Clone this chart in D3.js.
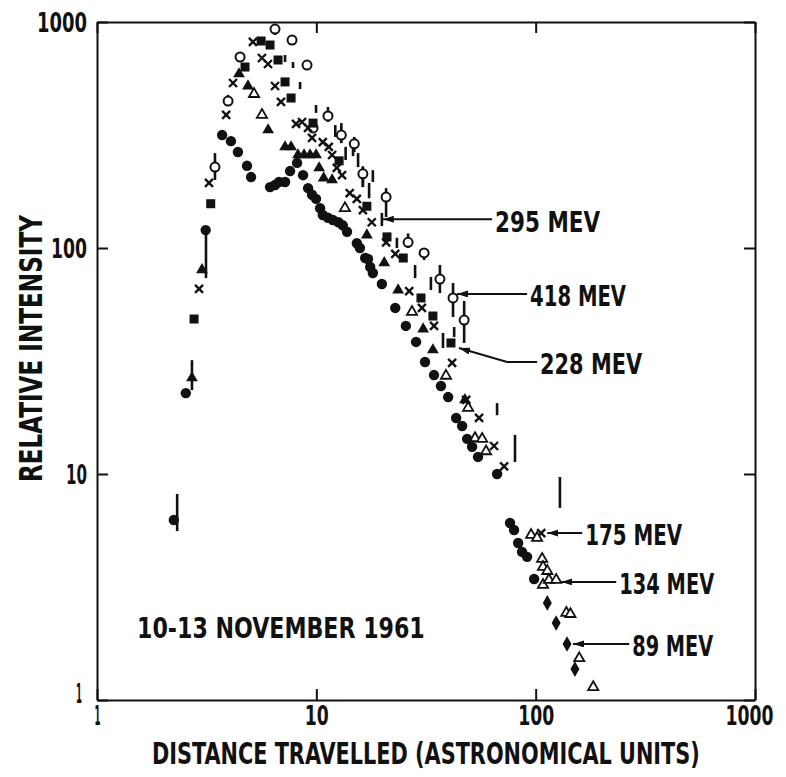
<!DOCTYPE html>
<html>
<head>
<meta charset="utf-8">
<title>10-13 November 1961</title>
<script src="https://d3js.org/d3.v7.min.js"></script>
<style>
body{margin:0;background:#fff;}
text{font-family:"DejaVu Sans Condensed","Liberation Sans Narrow",sans-serif;font-weight:bold;fill:#111;}
</style>
</head>
<body>
<script>
// [distance travelled (AU), relative intensity]
var mev89 = [
	[2.24,6.26],[2.54,22.8],[3.13,120],[3.72,316],[4.08,297],[4.39,266],[4.83,231],[5.04,206],
	[6.15,186],[6.48,190],[6.76,196],[7.20,196],[7.59,219],[8.17,238],[8.70,210],[9.17,184],
	[9.56,172],[9.97,165],[10.4,150],[10.7,140],[11.3,136],[11.9,133],[12.6,130],[13.2,126],
	[13.8,118],[15.3,105],[15.8,100],[16.7,90.3],[17.2,89.4],[17.6,82.4],[18.1,77.5],[19.9,69.3],
	[22.9,54.3],[25.6,45.2],[28.5,38.4],[31.3,31.3],[34.4,27.4],[37.0,24.5],[39.9,21.9],[43.4,17.7],
	[46.2,16.3],[48.7,14.3],[51.3,13.2],[54.6,11.9],[66.7,10.0],[76.4,6.07],[79.7,5.65],[83.2,4.95],
	[86.7,4.52],[91.4,4.30],[98.4,3.43]
];
var mev89Late = [[113,2.69],[124,2.19],[139,1.77],[151,1.37]];

var mev134Solid = [
	[2.71,26.6],[3.01,80],[4.44,589],[4.88,521],[6.03,333],[7.20,280],[7.67,280],[8.25,258],
	[8.79,258],[9.36,258],[9.97,258],[10.3,226],[10.8,204],[11.8,200],[17.0,114],[20.4,85.9],
	[23.6,65.2],[30.7,43.8],[34.0,35.4],[47.6,21.3]
];
var mev134Open = [
	[5.20,480],[5.65,388],[13.5,150],[27.3,52.1],[39.0,27.2],[49.2,19.6],[52.9,14.4],[57.0,14.3],
	[59.4,12.6],[95.3,5.37],[101.5,5.21],[107,4.21],[108,3.88],[113,3.72],[108,3.23],[115,3.40],
	[124,3.40],[138,2.43],[144,2.40],[158,1.53],[183,1.14]
];

var mev175 = [
	[2.92,65.9],[3.24,194],[3.88,388],[4.17,537],[5.14,816],[5.65,693],[6.02,652],[6.48,521],
	[6.90,443],[8.08,354],[8.61,361],[9.17,340],[9.56,307],[10.7,294],[11.4,280],[11.8,258],
	[12.4,226],[13.1,210],[14.2,175],[15.3,165],[16.3,147],[17.9,130],[20.8,106],[22.9,94.1],
	[26.5,64.5],[30.3,54.3],[34.4,45.2],[41.6,31.0],[48.2,21.3],[55.2,17.7],[64.6,13.3],[71.8,10.8],
	[106,5.48]
];

var mev228 = [
	[2.77,48.5],[3.30,157],[4.73,632],[5.60,824],[6.15,791],[6.69,679],[7.20,543],[7.67,461],
	[9.66,357],[12.7,243],[17.0,153],[21.0,112],[24.9,90.3],[30.0,60.1],[34.0,50.0],[41.1,38.0]
];

// [distance, low, high] - drawn as bars
var mev295 = [
	[2.32,5.59,8.16],[2.71,23.5,31.9],[3.14,73.6,118],[7.20,665,714],[7.83,626,665],[8.43,505,543],
	[9.97,396,429],[12.2,310,350],[13.6,245,280],[14.7,255,300],[15.5,228,263],[16.3,186,228],
	[17.4,166,194],[18.1,196,221],[19.9,125,143],[23.3,100,111],[28.2,73.6,84.1],[33.3,65.2,74.5],
	[37.8,36.1,42.1],[42.5,40.4,44.7],[66.7,18.2,20.6],[80.5,11.3,14.9],[129,7.08,9.70]
];

// [distance, intensity, low, high]
var mev418 = [
	[3.45,228,200,263],[3.96,447,429,476],[4.49,700,665,736],[6.48,931,876,960],[7.75,832,832,832],
	[9.07,645,613,671],[9.66,340,340,340],[11.3,384,361,421],[13.0,316,291,357],[14.9,289,266,310],
	[16.3,213,186,230],[20.8,168,137,184],[26.2,106,100,116],[31.0,95.1,88.5,100],[36.6,72.9,63.2,84.1],
	[42.0,60.1,49.5,70.0],[47.2,48.0,38.0,58.3]
];

var xTicks = [1,10,100,1000];
var yTicks = [1,10,100,1000];

var noteText = ["295 MEV","418 MEV","228 MEV","175 MEV","134 MEV","89 MEV"];
var noteTip  = [[20.1,134],[43.8,62.6],[44.7,36.1],[113,5.48],[131,3.33],[148,1.77]];
var noteKnee = [null,null,[74.1,31.3],null,null,null];
var noteEnd  = [[63.3,134],[91.4,62.6],[101.5,31.3],[163,5.48],[233,3.33],[267,1.77]];

var title = "10-13 NOVEMBER 1961";

var width = 786, height = 777;
var svg = d3.select("body").append("svg").attr("width",width).attr("height",height);

var x = d3.scaleLog().domain([1,1000]).range([97,755]);
var y = d3.scaleLog().domain([1,1000]).range([700,22]);

svg.append("defs").append("marker").attr("id","head")
	.attr("viewBox","0 0 11 7").attr("refX",11).attr("refY",3.5)
	.attr("markerWidth",11).attr("markerHeight",7).attr("markerUnits","userSpaceOnUse")
	.attr("orient","auto")
	.append("path").attr("d","M0,0L11,3.5L0,7z").attr("fill","#111");

// squeeze a text horizontally to a given width (hand lettering is narrow)
function fitText(t, tx, ty, w, rot){
	var n = t.node().getComputedTextLength();
	t.attr("transform","translate(" + tx + "," + ty + ")" + (rot ? " rotate(" + rot + ")" : "") + " scale(" + (w / n) + ",1)");
}

// axes: inward ticks on all four sides
function styleAxis(g){
	g.select(".domain").attr("stroke","#111").attr("stroke-width",2);
	g.selectAll(".tick line").attr("stroke","#111").attr("stroke-width",2);
}
var xAxisG = svg.append("g").attr("transform","translate(0,700)")
	.call(d3.axisBottom(x).tickValues(xTicks).tickSize(-11).tickSizeOuter(0).tickFormat(d3.format("d")));
var yAxisG = svg.append("g").attr("transform","translate(97,0)")
	.call(d3.axisLeft(y).tickValues(yTicks).tickSize(-11).tickSizeOuter(0).tickFormat(d3.format("d")));
var xTopG = svg.append("g").attr("transform","translate(0,22)")
	.call(d3.axisTop(x).tickValues(xTicks).tickSize(-11).tickSizeOuter(0).tickFormat(""));
var yRightG = svg.append("g").attr("transform","translate(755,0)")
	.call(d3.axisRight(y).tickValues(yTicks).tickSize(-11).tickSizeOuter(0).tickFormat(""));
[xAxisG,yAxisG,xTopG,yRightG].forEach(styleAxis);

var xLabW = {1:6,10:24,100:36,1000:48};
var yLabW = {1:6,10:21,100:36,1000:50};
xAxisG.selectAll(".tick text").attr("x",0).attr("y",0).attr("dy","0.71em")
	.style("font-size","26px").attr("fill","#111")
	.each(function(d){ fitText(d3.select(this), d === 1000 ? -6 : 0, 7, xLabW[d]); });
yAxisG.selectAll(".tick text").attr("x",0).attr("y",0).attr("dy",d => d === 1 ? "0.1em" : "0.36em")
	.style("font-size","26px").attr("fill","#111")
	.each(function(d){ fitText(d3.select(this), d === 1 ? -15 : -10, 0, yLabW[d]); });

fitText(svg.append("text").style("font-size","30px").text("DISTANCE TRAVELLED (ASTRONOMICAL UNITS)"), 152, 764, 548);
fitText(svg.append("text").style("font-size","32px").text("RELATIVE INTENSITY"), 42, 482, 267, -90);
fitText(svg.append("text").style("font-size","29px").text(title), 137, 638, 288);

var plot = svg.append("g");

// 295 MEV bars
plot.selectAll("line.m295").data(mev295).join("line").attr("class","m295")
	.attr("x1",d => x(d[0])).attr("x2",d => x(d[0]))
	.attr("y1",d => y(d[1])).attr("y2",d => y(d[2]))
	.attr("stroke","#111").attr("stroke-width",2.6);

// 418 MEV open circles with error bars
plot.selectAll("line.m418").data(mev418).join("line").attr("class","m418")
	.attr("x1",d => x(d[0])).attr("x2",d => x(d[0]))
	.attr("y1",d => y(d[2])).attr("y2",d => y(d[3]))
	.attr("stroke","#111").attr("stroke-width",2.6);
plot.selectAll("circle.m418").data(mev418).join("circle").attr("class","m418")
	.attr("cx",d => x(d[0])).attr("cy",d => y(d[1])).attr("r",4.5)
	.attr("fill","#fff").attr("stroke","#111").attr("stroke-width",2);

// 228 MEV squares
plot.selectAll("rect.m228").data(mev228).join("rect").attr("class","m228")
	.attr("x",d => x(d[0]) - 4.5).attr("y",d => y(d[1]) - 4.5)
	.attr("width",9).attr("height",9).attr("fill","#111");

// 175 MEV crosses
plot.selectAll("path.m175").data(mev175).join("path").attr("class","m175")
	.attr("transform",d => "translate(" + x(d[0]) + "," + y(d[1]) + ")")
	.attr("d","M-4,-4L4,4M-4,4L4,-4").attr("stroke","#111").attr("stroke-width",2.4);

// 134 MEV triangles
plot.selectAll("path.m134s").data(mev134Solid).join("path").attr("class","m134s")
	.attr("transform",d => "translate(" + x(d[0]) + "," + y(d[1]) + ")")
	.attr("d",d3.symbol(d3.symbolTriangle, 60)).attr("fill","#111");
plot.selectAll("path.m134o").data(mev134Open).join("path").attr("class","m134o")
	.attr("transform",d => "translate(" + x(d[0]) + "," + y(d[1]) + ")")
	.attr("d",d3.symbol(d3.symbolTriangle, 45)).attr("fill","#fff").attr("stroke","#111").attr("stroke-width",1.8);

// 89 MEV filled circles, then diamonds
plot.selectAll("circle.m89").data(mev89).join("circle").attr("class","m89")
	.attr("cx",d => x(d[0])).attr("cy",d => y(d[1])).attr("r",5.2).attr("fill","#111");
plot.selectAll("path.m89l").data(mev89Late).join("path").attr("class","m89l")
	.attr("transform",d => "translate(" + x(d[0]) + "," + y(d[1]) + ")")
	.attr("d",d3.symbol(d3.symbolDiamond, 70)).attr("fill","#111");

// energy labels with arrows
var noteW = [105,96,102,97,95,81];
noteText.forEach(function(t,i){
	var pts = [noteEnd[i]];
	if (noteKnee[i]) pts.push(noteKnee[i]);
	pts.push(noteTip[i]);
	svg.append("path")
		.attr("d",d3.line().x(p => x(p[0])).y(p => y(p[1]))(pts))
		.attr("fill","none").attr("stroke","#111").attr("stroke-width",2)
		.attr("marker-end","url(#head)");
	var lab = svg.append("text").attr("dy","0.36em").style("font-size","29px").text(t);
	fitText(lab, x(noteEnd[i][0]) + 3, y(noteEnd[i][1]) + 2, noteW[i]);
});
</script>
</body>
</html>
